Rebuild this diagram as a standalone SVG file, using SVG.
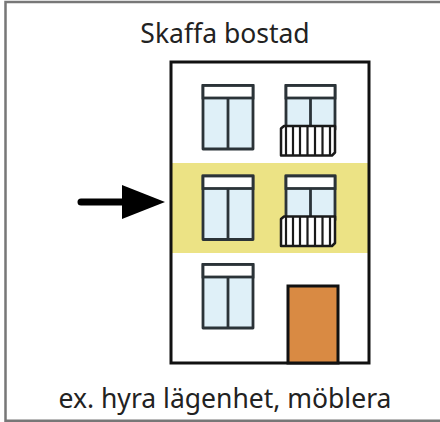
<svg xmlns="http://www.w3.org/2000/svg" width="440" height="422" viewBox="0 0 440 422">
<style>
.lbl{font-family:"Noto Sans","Open Sans",sans-serif;font-size:26.500px;fill:#222;text-anchor:middle}
.w{fill:#dff0f8;stroke:#2b3338;stroke-width:2.800;stroke-linejoin:round}
.t{fill:#fff;stroke:#2b3338;stroke-width:2.800}
.l{stroke:#2b3338;stroke-width:2.800;fill:none}
.b{stroke:#1a1a1a;stroke-width:2.500;fill:#fff;stroke-linejoin:round}
.s{stroke:#1a1a1a;stroke-width:2.200}
</style>
<defs>
<g id="win">
<rect class="w" x="0" y="0" width="50" height="63.500"/>
<rect class="t" x="0" y="0" width="50" height="12.500"/>
<path class="l" d="M25 12.500V63.500"/>
</g>
<g id="balwin">
<rect class="w" x="0" y="0" width="49" height="44"/>
<rect class="t" x="0" y="0" width="49" height="12.500"/>
<path class="l" d="M24.500 12.500V44"/>
<path class="b" d="M-5 43L-2 40.500H49V67L46 70H-5Z"/>
<path class="s" d="M0 41V70M7 41V70M14 41V70M21.500 41V70M29 41V70M36.500 41V70M44 41V70"/>
</g>
</defs>
<path id="frame" d="M5.500 422V2H440M5.500 420.800H440" fill="none" stroke="#777" stroke-width="2.500"/>
<g id="building">
<rect x="171" y="62" width="198" height="301" fill="#fff"/>
<rect x="171" y="163" width="198" height="90" fill="#ece385"/>
<rect x="171" y="62" width="198" height="301" fill="none" stroke="#111" stroke-width="3"/>
</g>
<g id="windows">
<use href="#win" x="203" y="85.500"/>
<use href="#balwin" x="286" y="85.500"/>
<use href="#win" x="203" y="176"/>
<use href="#balwin" x="286" y="176"/>
<use href="#win" x="203" y="264.500"/>
</g>
<g id="door"><rect x="288" y="286" width="50" height="77" fill="#d98a43" stroke="#111" stroke-width="3"/></g>
<g id="connectors">
<path d="M81 202H124" stroke="#000" stroke-width="7" stroke-linecap="round" fill="none"/>
<path d="M122 185L165 202L122 219Z" fill="#000"/>
</g>
<text class="lbl" x="225" y="43">Skaffa bostad</text>
<text class="lbl" x="225" y="407.500">ex. hyra lägenhet, möblera</text>
</svg>
